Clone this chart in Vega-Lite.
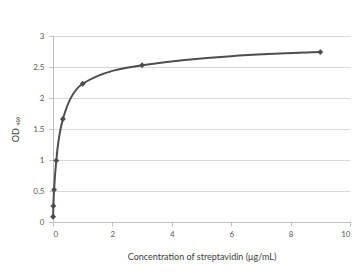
{
  "$schema": "https://vega.github.io/schema/vega-lite/v6.json",
  "width": 297,
  "height": 186,
  "autosize": {"type": "none"},
  "padding": {"left": 53, "top": 36, "right": 12, "bottom": 58},
  "background": "white",
  "config": {
    "view": {"stroke": null},
    "font": "Lato",
    "axis": {
      "labelFont": "Lato",
      "titleFont": "Lato",
      "labelColor": "#595959",
      "titleColor": "#404040",
      "labelFontSize": 8,
      "titleFontSize": 9,
      "titleFontWeight": "normal",
      "gridColor": "#d9d9d9",
      "domainColor": "#bfbfbf",
      "tickColor": "#bfbfbf"
    }
  },
  "data": {
    "values": [
      {"conc": 0.0041, "od": 0.085},
      {"conc": 0.0123, "od": 0.26},
      {"conc": 0.037, "od": 0.52},
      {"conc": 0.111, "od": 0.99},
      {"conc": 0.333, "od": 1.66},
      {"conc": 1, "od": 2.23},
      {"conc": 3, "od": 2.53},
      {"conc": 9, "od": 2.74}
    ]
  },
  "encoding": {
    "x": {
      "field": "conc",
      "type": "quantitative",
      "scale": {"domain": [0, 10], "nice": false},
      "axis": {
        "values": [0, 2, 4, 6, 8, 10],
        "format": "d",
        "grid": false,
        "tickSize": 4,
        "labelPadding": 4,
        "title": "Concentration of streptavidin (μg/mL)",
        "titlePadding": 14
      }
    },
    "y": {
      "field": "od",
      "type": "quantitative",
      "scale": {"domain": [0, 3], "nice": false},
      "axis": {
        "values": [0, 0.5, 1, 1.5, 2, 2.5, 3],
        "format": "~g",
        "tickSize": 4,
        "labelPadding": 5,
        "domain": true,
        "title": "OD ₄₅₀",
        "titlePadding": 12
      }
    }
  },
  "layer": [
    {"mark": {"type": "line", "interpolate": "monotone", "color": "#4d4d4d", "strokeWidth": 2}},
    {"mark": {"type": "point", "shape": "diamond", "filled": true, "color": "#4d4d4d", "opacity": 1, "size": 35}}
  ]
}
